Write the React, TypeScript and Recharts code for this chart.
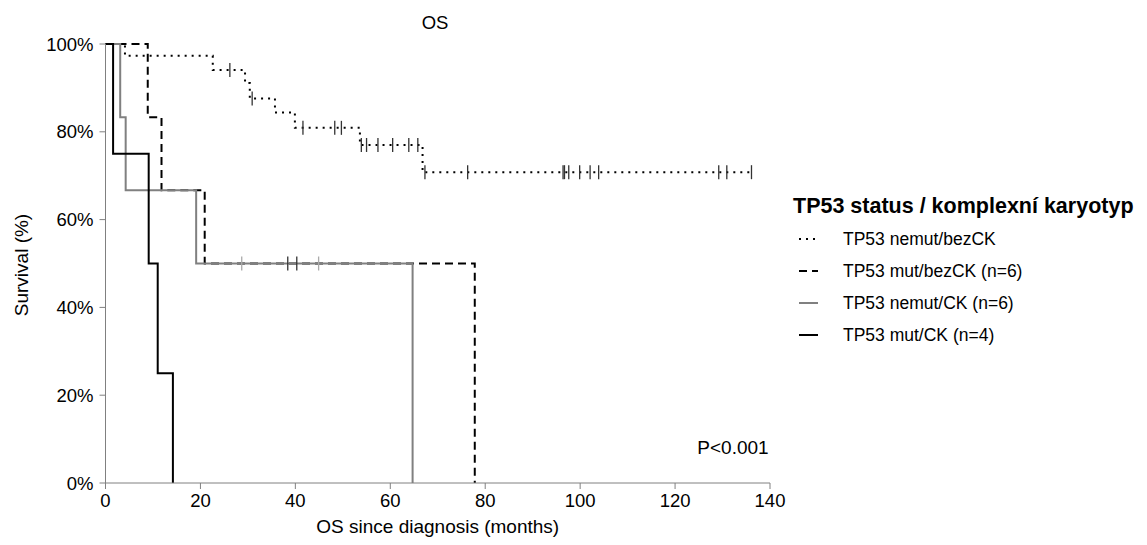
import React from "react";
import { ComposedChart, Line, Scatter, XAxis, YAxis } from "recharts";

const FONT = "Arial, 'Liberation Sans', sans-serif";

const xTicks = [0, 20, 40, 60, 80, 100, 120, 140];
const yTicks = [0, 20, 40, 60, 80, 100];

// TP53 nemut/bezCK (dotted)
const nbTimes = [0, 4.1, 22.6, 29.4, 30.4, 35.7, 39.9, 53.6, 66.8, 136.1];
const nbSurv = [100, 97.3, 94.1, 91.1, 87.6, 84.4, 80.9, 77.0, 70.8, 70.8];
const nbCensT = [26.2, 30.9, 41.6, 48.3, 49.7, 53.9, 55, 57.4, 60.5, 63.9, 65.8, 67.3, 76.3, 96.4, 96.7, 97.6, 99.9, 102.1, 103.9, 129.2, 130.9, 136.1];
const nbCensS = [94.1, 87.6, 80.9, 80.9, 80.9, 77, 77, 77, 77, 77, 77, 70.8, 70.8, 70.8, 70.8, 70.8, 70.8, 70.8, 70.8, 70.8, 70.8, 70.8];

// TP53 mut/bezCK (dashed)
const mbTimes = [0, 8.9, 11.8, 20.9, 77.8];
const mbSurv = [100, 83.3, 66.7, 50, 0];
const mbCensT = [38.4, 40.3];
const mbCensS = [50, 50];

// TP53 nemut/CK (grey)
const ncTimes = [0, 3.1, 4.25, 19.1, 64.7];
const ncSurv = [100, 83.3, 66.7, 50, 0];
const ncCensT = [28.7, 44.9];
const ncCensS = [50, 50];

// TP53 mut/CK (black)
const mcTimes = [0, 1.6, 9.1, 11, 14.2];
const mcSurv = [100, 75, 50, 25, 0];

const legendLabels = [
  "TP53 nemut/bezCK",
  "TP53 mut/bezCK (n=6)",
  "TP53 nemut/CK (n=6)",
  "TP53 mut/CK (n=4)",
];

const zip = (t: number[], s: number[]) => t.map((v, i) => ({ t: v, s: s[i] }));

const censorMark = (color: string) => (props: any) => {
  const { cx, cy } = props;
  return <line x1={cx} x2={cx} y1={cy - 7} y2={cy + 7} stroke={color} strokeWidth={1.3} />;
};

const legendStyles = [
  { stroke: "#000", dash: "2 5" },
  { stroke: "#000", dash: "8 5" },
  { stroke: "#808080", dash: undefined },
  { stroke: "#000", dash: undefined },
];

export default function App() {
  return (
    <div style={{ position: "absolute", left: 0, top: 0, width: 1147, height: 545, background: "#fff" }}>
      <ComposedChart
        width={1147}
        height={545}
        margin={{ top: 44, right: 377, bottom: 32, left: 45.5 }}
      >
        <XAxis
          type="number"
          dataKey="t"
          domain={[0, 140]}
          ticks={xTicks}
          tickSize={6}
          tickMargin={5}
          height={30}
          stroke="#808080"
          tick={{ fill: "#000", fontSize: 18.5, fontFamily: FONT }}
          label={{ value: "OS since diagnosis (months)", position: "bottom", offset: 7, fill: "#000", fontSize: 19, fontFamily: FONT }}
        />
        <YAxis
          type="number"
          domain={[0, 100]}
          ticks={yTicks}
          width={60}
          tickSize={6}
          tickMargin={6}
          stroke="#808080"
          tickFormatter={(v: number) => `${v}%`}
          tick={{ fill: "#000", fontSize: 18.5, fontFamily: FONT }}
        />
        <Line data={zip(nbTimes, nbSurv)} dataKey="s" type="stepAfter" stroke="#000" strokeWidth={2} strokeDasharray="2 5" dot={false} isAnimationActive={false} />
        <Line data={zip(mbTimes, mbSurv)} dataKey="s" type="stepAfter" stroke="#000" strokeWidth={2} strokeDasharray="8 5" dot={false} isAnimationActive={false} />
        <Line data={zip(ncTimes, ncSurv)} dataKey="s" type="stepAfter" stroke="#808080" strokeWidth={2} dot={false} isAnimationActive={false} />
        <Line data={zip(mcTimes, mcSurv)} dataKey="s" type="stepAfter" stroke="#000" strokeWidth={2} dot={false} isAnimationActive={false} />
        <Scatter data={zip(nbCensT, nbCensS)} dataKey="s" shape={censorMark("#333")} isAnimationActive={false} />
        <Scatter data={zip(mbCensT, mbCensS)} dataKey="s" shape={censorMark("#333")} isAnimationActive={false} />
        <Scatter data={zip(ncCensT, ncCensS)} dataKey="s" shape={censorMark("#aaa")} isAnimationActive={false} />
      </ComposedChart>
      <svg width={1147} height={545} style={{ position: "absolute", left: 0, top: 0, pointerEvents: "none" }} fontFamily={FONT}>
        <text x={435} y={22} textAnchor="middle" dominantBaseline="central" fontSize={18.5}>OS</text>
        <text transform="translate(21,265) rotate(-90)" textAnchor="middle" dominantBaseline="central" fontSize={19}>Survival (%)</text>
        <text x={733} y={447} textAnchor="middle" dominantBaseline="central" fontSize={19}>P&lt;0.001</text>
        <text x={793} y={206} dominantBaseline="central" fontSize={21.5} fontWeight="bold">TP53 status / komplexní karyotyp</text>
        {legendLabels.map((lab, i) => {
          const y = 239 + i * 32;
          const st = legendStyles[i];
          return (
            <g key={lab}>
              <line x1={799} x2={818} y1={y} y2={y} stroke={st.stroke} strokeWidth={2} strokeDasharray={st.dash} />
              <text x={843} y={y} dominantBaseline="central" fontSize={17.5}>{lab}</text>
            </g>
          );
        })}
      </svg>
    </div>
  );
}
